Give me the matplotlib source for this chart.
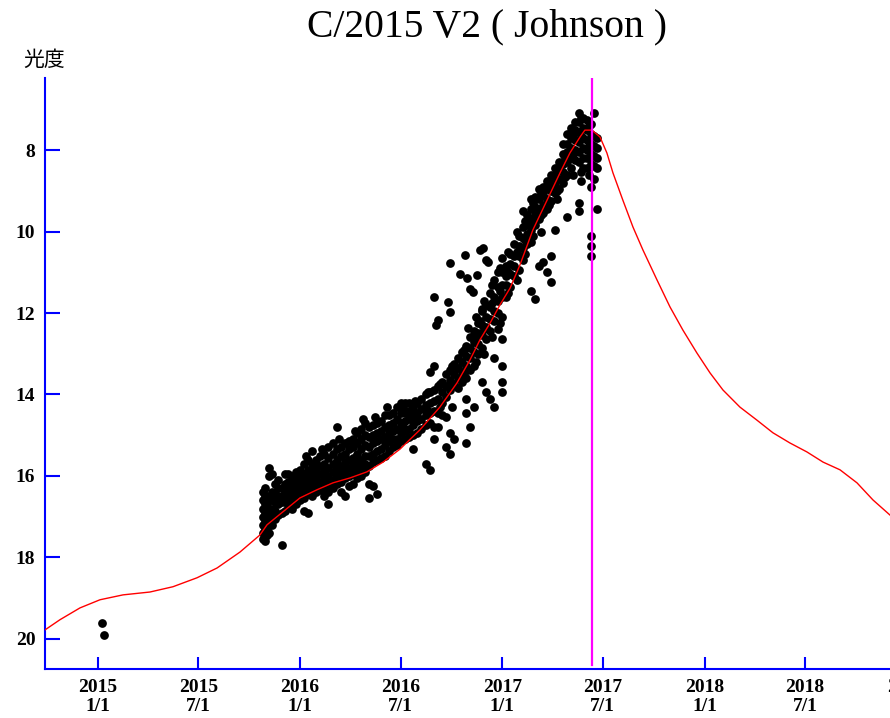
import numpy as np
import matplotlib
matplotlib.use('Agg')
from matplotlib import pyplot as plt

plt.rcParams['font.family'] = ['Liberation Serif', 'Noto Sans CJK JP', 'DejaVu Sans']

# model light curve (decimal year, magnitude)
curve_year = [2014.738, 2014.812, 2014.911, 2015.010, 2015.124, 2015.257, 2015.371,
              2015.490, 2015.589, 2015.702, 2015.801, 2015.836, 2015.915, 2015.999,
              2016.083, 2016.162, 2016.246, 2016.330, 2016.410, 2016.494, 2016.592,
              2016.691, 2016.775, 2016.840, 2016.889, 2016.939, 2016.988, 2017.038,
              2017.087, 2017.151, 2017.221, 2017.285, 2017.334, 2017.384, 2017.408,
              2017.443, 2017.483, 2017.517, 2017.547, 2017.596, 2017.646, 2017.695,
              2017.765, 2017.829, 2017.893, 2017.962, 2018.027, 2018.091, 2018.175,
              2018.259, 2018.338, 2018.422, 2018.506, 2018.586, 2018.670, 2018.754,
              2018.833, 2018.917]
curve_mag = [19.78, 19.53, 19.24, 19.04, 18.92, 18.85, 18.72,
             18.50, 18.26, 17.87, 17.45, 17.20, 16.88, 16.54,
             16.34, 16.17, 16.05, 15.90, 15.66, 15.34, 14.87,
             14.31, 13.72, 13.15, 12.66, 12.25, 11.80, 11.39,
             10.82, 9.96, 9.23, 8.56, 8.07, 7.68, 7.51,
             7.51, 7.68, 8.07, 8.56, 9.23, 9.89, 10.45,
             11.19, 11.85, 12.42, 12.98, 13.47, 13.89, 14.31,
             14.63, 14.94, 15.19, 15.41, 15.66, 15.85, 16.17,
             16.59, 16.96]

# observations, grouped by date column
col_year = [2015.815, 2015.825, 2015.835, 2015.845, 2015.86, 2015.875, 2015.89, 2015.91,
            2015.925, 2015.94, 2015.96, 2015.98, 2016.00, 2016.02, 2016.04, 2016.06,
            2016.08, 2016.10, 2016.12, 2016.14, 2016.16, 2016.18, 2016.20, 2016.22,
            2016.24, 2016.26, 2016.28, 2016.30, 2016.32, 2016.34, 2016.36, 2016.38,
            2016.40, 2016.42, 2016.44, 2016.46, 2016.48, 2016.50, 2016.52, 2016.54,
            2016.56, 2016.58, 2016.60, 2016.62, 2016.64, 2016.66, 2016.68, 2016.70,
            2016.72, 2016.74, 2016.76, 2016.78, 2016.80, 2016.82, 2016.84, 2016.86,
            2016.88, 2016.90, 2016.92, 2016.94, 2016.96, 2016.98, 2017.00, 2017.02,
            2017.04, 2017.06, 2017.08, 2017.10, 2017.12, 2017.14, 2017.16, 2017.18,
            2017.20, 2017.22, 2017.24, 2017.26, 2017.28, 2017.30, 2017.32, 2017.34,
            2017.36, 2017.38, 2017.40, 2017.42, 2017.44, 2017.455, 2017.47]
col_mags = [
    [16.4, 16.6, 16.8, 17.0, 17.2, 17.4, 17.55],
    [16.3, 16.5, 16.7, 16.9, 17.1, 17.3, 17.5, 17.6],
    [16.5, 16.7, 16.9, 17.1, 17.3, 17.45],
    [15.8, 16.0, 16.6, 16.8, 17.0, 17.2, 17.4],
    [15.95, 16.4, 16.6, 16.8, 17.0, 17.2],
    [16.2, 16.45, 16.65, 16.85, 17.05],
    [16.1, 16.3, 16.5, 16.7, 16.95],
    [16.3, 16.5, 16.65, 16.9, 17.7],
    [15.95, 16.2, 16.4, 16.6, 16.85],
    [15.95, 16.15, 16.35, 16.55, 16.75],
    [16.0, 16.2, 16.4, 16.6, 16.8],
    [15.9, 16.1, 16.3, 16.5, 16.7],
    [15.85, 16.05, 16.25, 16.45, 16.6],
    [15.7, 15.95, 16.15, 16.35, 16.55, 16.85],
    [15.6, 15.85, 16.05, 16.25, 16.45, 16.9],
    [15.4, 15.7, 15.9, 16.1, 16.3, 16.5],
    [15.6, 15.8, 16.0, 16.2, 16.4],
    [15.5, 15.75, 15.95, 16.15, 16.35],
    [15.45, 15.7, 15.9, 16.1, 16.3, 16.5],
    [15.3, 15.55, 15.8, 16.0, 16.2, 16.4, 16.7],
    [15.2, 15.45, 15.7, 15.9, 16.1, 16.3],
    [14.8, 15.35, 15.6, 15.8, 16.0, 16.2],
    [15.3, 15.5, 15.75, 15.95, 16.15, 16.4],
    [15.2, 15.45, 15.65, 15.85, 16.05, 16.5],
    [15.15, 15.35, 15.6, 15.8, 16.0, 16.25],
    [15.1, 15.3, 15.55, 15.75, 15.95, 16.2],
    [14.95, 15.2, 15.45, 15.65, 15.85, 16.05],
    [14.85, 15.1, 15.35, 15.6, 15.8, 16.0],
    [14.7, 15.0, 15.25, 15.5, 15.7, 15.9],
    [14.8, 15.05, 15.3, 15.5, 15.75, 16.2, 16.55],
    [14.75, 15.0, 15.2, 15.45, 15.65, 16.25],
    [14.7, 14.95, 15.15, 15.4, 15.6, 16.45],
    [14.65, 14.9, 15.1, 15.35, 15.55],
    [14.5, 14.8, 15.05, 15.25, 15.5],
    [14.5, 14.75, 14.95, 15.15, 15.4],
    [14.45, 14.7, 14.9, 15.1, 15.3],
    [14.3, 14.6, 14.85, 15.1, 15.25],
    [14.2, 14.45, 14.7, 14.95, 15.15],
    [14.2, 14.45, 14.65, 14.9, 15.1],
    [14.2, 14.4, 14.6, 14.85, 15.05],
    [14.3, 14.5, 14.75, 15.0, 15.35],
    [14.2, 14.45, 14.65, 14.95],
    [14.1, 14.35, 14.6, 14.85],
    [14.0, 14.25, 14.5, 14.75, 15.7],
    [13.45, 13.95, 14.2, 14.45, 14.7, 15.85],
    [13.3, 13.9, 14.15, 14.4, 14.8, 15.1],
    [13.8, 14.1, 14.45, 14.8],
    [13.7, 13.95, 14.2, 14.5],
    [13.5, 13.8, 14.05, 14.55, 15.3],
    [13.4, 13.65, 13.9, 14.95, 15.45],
    [13.25, 13.5, 13.75, 15.1],
    [13.1, 13.35, 13.6, 13.85],
    [12.95, 13.2, 13.45, 13.7],
    [12.8, 13.05, 13.3, 13.6, 14.1, 14.45, 15.2],
    [12.6, 12.85, 13.1, 13.4, 14.8],
    [12.45, 12.7, 12.95, 13.3, 14.3],
    [12.25, 12.5, 12.75, 13.0],
    [11.95, 12.3, 12.55, 12.85, 13.7],
    [11.8, 12.1, 12.35, 12.65, 13.95],
    [11.5, 11.85, 12.15, 12.45, 14.1],
    [11.2, 11.6, 11.95, 12.2, 13.1, 14.3],
    [11.0, 11.35, 11.7, 12.0, 12.4],
    [10.65, 11.0, 11.3, 11.6, 12.1, 12.65, 13.3, 13.7, 13.95],
    [10.85, 11.1, 11.3, 11.6],
    [10.55, 10.8, 11.05, 11.35],
    [10.3, 10.6, 10.85, 11.1],
    [10.1, 10.35, 10.6, 10.95],
    [9.5, 9.9, 10.15, 10.4, 10.7],
    [9.6, 9.85, 10.05, 10.3],
    [9.2, 9.45, 9.7, 9.95, 10.25, 11.45],
    [9.15, 9.4, 9.6, 9.85, 11.65],
    [8.95, 9.2, 9.45, 9.7, 10.85],
    [8.9, 9.1, 9.35, 9.55, 10.75],
    [8.75, 8.95, 9.2, 9.45, 11.0],
    [8.6, 8.8, 9.0, 9.25, 10.6, 11.25],
    [8.45, 8.65, 8.85, 9.05, 9.95],
    [8.3, 8.5, 8.7, 8.95],
    [7.85, 8.1, 8.35, 8.55, 8.8],
    [7.6, 7.85, 8.05, 8.3, 8.6, 9.65],
    [7.45, 7.7, 7.95, 8.2, 8.45],
    [7.3, 7.5, 7.75, 8.0, 8.25],
    [7.1, 7.3, 7.55, 7.8, 8.05, 8.3, 9.3, 9.5],
    [7.2, 7.45, 7.7, 7.95, 8.2, 8.45],
    [7.25, 7.5, 7.75, 8.0, 8.2, 8.45],
    [7.35, 7.6, 7.85, 8.1, 8.35, 8.9, 10.1, 10.35, 10.6],
    [7.1, 7.65, 7.9, 8.15, 8.4, 8.7],
    [7.7, 7.95, 8.2, 8.45, 9.45],
]

# scattered single observations
extra_year = [2015.02, 2015.03, 2016.74, 2016.815, 2016.89, 2016.92, 2016.825,
              2016.875, 2016.855, 2016.73, 2016.74, 2016.68, 2016.83, 2016.905,
              2016.93, 2016.79, 2016.84, 2016.90, 2016.89, 2016.66, 2016.67,
              2016.87, 2016.87, 2016.87, 2016.91, 2016.91, 2016.91,
              2016.95, 2016.95, 2016.95, 2016.99, 2016.99, 2016.99,
              2017.03, 2017.03, 2017.03, 2017.07, 2017.07, 2017.07,
              2017.11, 2017.11, 2017.11, 2017.15, 2017.15, 2017.15,
              2017.19, 2017.19, 2017.19, 2017.23, 2017.23,
              2017.27, 2017.27, 2017.27, 2017.31, 2017.31,
              2017.35, 2017.35, 2017.35, 2017.39, 2017.39, 2017.39, 2017.39,
              2017.43, 2017.43, 2017.43,
              2016.51, 2016.51, 2016.57, 2016.57, 2016.63, 2016.63,
              2016.69, 2016.69, 2016.75, 2016.75, 2016.75, 2016.81, 2016.81,
              2016.03, 2016.11, 2016.19, 2016.27, 2016.31, 2016.37, 2016.43]
extra_mag = [19.6, 19.9, 10.77, 10.58, 10.45, 10.7, 11.14,
             11.07, 11.48, 11.73, 11.98, 12.17, 12.37, 10.4,
             10.75, 11.05, 11.4, 11.9, 12.2, 11.6, 12.3,
             12.1, 12.6, 13.2, 11.7, 12.4, 13.0,
             11.3, 11.75, 12.6, 10.9, 11.45, 12.25,
             10.5, 11.0, 11.5, 10.0, 10.5, 11.2,
             9.75, 10.2, 10.55, 9.3, 9.8, 10.1,
             9.05, 9.6, 10.0, 8.85, 9.35,
             8.55, 9.0, 9.2, 8.2, 8.65,
             7.6, 8.1, 8.6, 7.2, 7.65, 8.55, 8.75,
             7.4, 7.9, 8.6,
             14.3, 14.8, 14.15, 14.6, 13.95, 14.4,
             13.75, 14.3, 13.3, 13.8, 14.3, 12.9, 13.5,
             15.5, 15.35, 15.1, 14.9, 14.6, 14.55, 14.3]

perihelion = 2017.443

tick_pos = [2015.0, 2015.496, 2016.0, 2016.497, 2017.0, 2017.496, 2018.0, 2018.496, 2019.0]
tick_lab = ['2015\n1/1', '2015\n7/1', '2016\n1/1', '2016\n7/1', '2017\n1/1',
            '2017\n7/1', '2018\n1/1', '2018\n7/1', '2019\n1/1']

obs_x = []
obs_y = []
for yr, mags in zip(col_year, col_mags):
    for m in mags:
        obs_x.append(yr)
        obs_y.append(m)
obs_x += extra_year
obs_y += extra_mag

blue = '#0000ff'
fig = plt.figure(figsize=(8.9, 7.18), dpi=100)
ax = fig.add_axes([45 / 890, 1 - 669 / 718, 885 / 890, 591 / 718])

ax.plot(obs_x, obs_y, 'o', color='black', ms=6.3, mec='none', zorder=2)
ax.plot(curve_year, curve_mag, '-', color='red', lw=1.0, zorder=3)
ax.axvline(perihelion, ymin=0.006, ymax=1, color='#ff00ff', lw=1.6, zorder=4)

ax.set_xlim(2014.738, 2019.115)
ax.set_ylim(20.74, 6.23)

ax.set_xticks(tick_pos)
ax.set_xticklabels(tick_lab, fontsize=14, fontweight='bold', linespacing=1.15)
ax.set_yticks([8, 10, 12, 14, 16, 18, 20])
ax.set_yticklabels(['8', '10', '12', '14', '16', '18', '20'], fontsize=14, fontweight='bold')

for s in ['top', 'right']:
    ax.spines[s].set_visible(False)
for s in ['left', 'bottom']:
    ax.spines[s].set_color(blue)
    ax.spines[s].set_linewidth(1.5)
ax.tick_params(axis='x', direction='in', length=8.5, width=1.5, color=blue, pad=7)
ax.tick_params(axis='y', direction='in', length=11, width=1.5, color=blue, pad=7)

ax.set_title('C/2015 V2 ( Johnson )', fontsize=28.5, pad=30)
fig.text(23 / 890, 1 - 60 / 718, '光度', fontsize=15, va='center', ha='left',
         family=['Noto Sans CJK JP'])

fig.savefig('out.png', dpi=100)
